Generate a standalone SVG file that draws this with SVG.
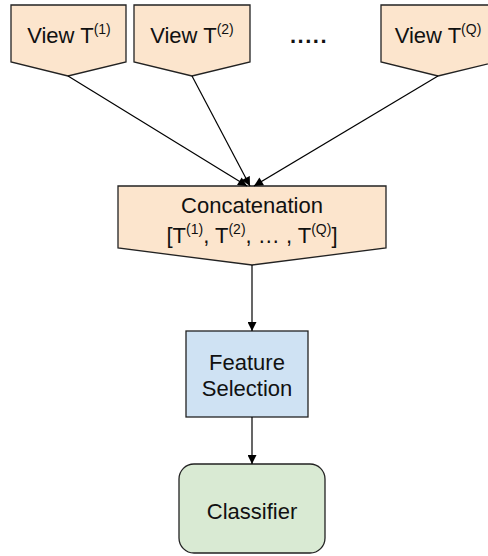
<svg xmlns="http://www.w3.org/2000/svg" width="488" height="556" viewBox="0 0 488 556">
<defs>
<marker id="ah" viewBox="0 0 10 10" refX="10" refY="5" markerWidth="10" markerHeight="9" markerUnits="userSpaceOnUse" orient="auto">
<path d="M0,0 L10,5 L0,10 z" fill="#000"/>
</marker>
</defs>
<style>
.o{fill:#fce5cd;stroke:#222;stroke-width:1.3}
.b{fill:#cfe2f3;stroke:#222;stroke-width:1.3}
.g{fill:#d9ead3;stroke:#222;stroke-width:1.3}
.t{font-family:"Liberation Sans",Arial,sans-serif;font-size:22px;fill:#111;text-anchor:middle}
.e{stroke:#000;stroke-width:1.2;fill:none;marker-end:url(#ah)}
</style>
<rect width="488" height="556" fill="#fff"/>
<g id="view1">
<polygon class="o" points="11,5 126,5 126,62 68,76 11,62"/>
<text class="t" x="69" y="43">View T<tspan font-size="14" dy="-9">(1)</tspan></text>
</g>
<g id="view2">
<polygon class="o" points="134,5 250,5 250,62 192,76 134,62"/>
<text class="t" x="192" y="43">View T<tspan font-size="14" dy="-9">(2)</tspan></text>
</g>
<g id="dots">
<text class="t" x="309" y="43" font-weight="bold" letter-spacing="1.5">.....</text>
</g>
<g id="viewQ">
<polygon class="o" points="381,5 496,5 496,62 438,76 381,62"/>
<text class="t" x="438" y="43">View T<tspan font-size="14" dy="-9">(Q)</tspan></text>
</g>
<g id="concat">
<polygon class="o" points="118,186 386,186 386,248 252,265 118,248"/>
<text class="t" x="252" y="213">Concatenation</text>
<text class="t" x="252" y="243">[T<tspan font-size="14" dy="-9">(1)</tspan><tspan dy="9">, T</tspan><tspan font-size="14" dy="-9">(2)</tspan><tspan dy="9">, … , T</tspan><tspan font-size="14" dy="-9">(Q)</tspan><tspan dy="9">]</tspan></text>
</g>
<g id="featsel">
<rect class="b" x="186" y="331" width="122" height="86"/>
<text class="t" x="247" y="370">Feature</text>
<text class="t" x="247" y="396">Selection</text>
</g>
<g id="classifier">
<rect class="g" x="179" y="464" width="146" height="89" rx="15" ry="15"/>
<text class="t" x="252" y="519">Classifier</text>
</g>
<g id="connectors">
<line class="e" x1="68" y1="76" x2="247" y2="186"/>
<line class="e" x1="192" y1="76" x2="250" y2="186"/>
<line class="e" x1="438" y1="76" x2="254" y2="186"/>
<line class="e" x1="252" y1="265" x2="252" y2="331"/>
<line class="e" x1="252" y1="417" x2="252" y2="464"/>
</g>
</svg>
